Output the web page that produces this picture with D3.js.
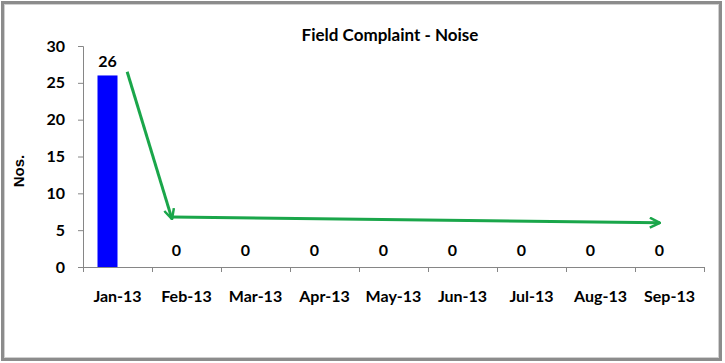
<!DOCTYPE html>
<html>
<head>
<meta charset="utf-8">
<script src="https://cdn.jsdelivr.net/npm/d3@7"></script>
<style>
  body { margin: 0; background: #fff; }
  text { font-family: Lato, "Open Sans", sans-serif; font-weight: bold; fill: #000; }
</style>
</head>
<body>
<script>
// chart data
var months = ["Jan-13", "Feb-13", "Mar-13", "Apr-13", "May-13", "Jun-13", "Jul-13", "Aug-13", "Sep-13"];
var complaints = [26, 0, 0, 0, 0, 0, 0, 0, 0];
var yTicks = [0, 5, 10, 15, 20, 25, 30];

// hand-drawn trend arrow (month, value it points at)
var trendMonths = ["Jan-13", "Feb-13", "Sep-13"];
var trendValues = [26.5, 6.5, 6.0];

var W = 725, H = 363;

var svg = d3.select('body').append('svg')
  .attr('width', W)
  .attr('height', H);

// outer frame
svg.append("rect")
  .attr("x", 2.5).attr("y", 2.5)
  .attr("width", 718).attr("height", 357)
  .attr("fill", "#fff")
  .attr("stroke", "#8c8c8c")
  .attr("stroke-width", 3);
svg.append("rect")
  .attr("x", 4.5).attr("y", 4.5)
  .attr("width", 714).attr("height", 353)
  .attr("fill", "none")
  .attr("stroke", "#d0d0d0")
  .attr("stroke-width", 1);

var x = d3.scaleBand().domain(months).range([83, 704]).padding(0);
var y = d3.scaleLinear().domain([0, 30]).range([267, 46]);
var bw = x.bandwidth();

// title
svg.append("text")
  .attr("x", 390).attr("y", 41)
  .attr("text-anchor", "middle")
  .style("font-size", "17px")
  .text("Field Complaint - Noise");

// y axis
var yAxis = svg.append("g")
  .attr("transform", "translate(83,0)")
  .call(d3.axisLeft(y).tickValues(yTicks).tickSize(5).tickPadding(13));
yAxis.selectAll("text").style("font-size", "16px");

// x axis
var xAxis = svg.append("g")
  .attr("transform", "translate(0,267)")
  .call(d3.axisBottom(x).tickSize(0).tickPadding(24));
xAxis.selectAll("text").style("font-size", "16px");
// tick marks at band edges
xAxis.selectAll(".edge")
  .data(months.concat(["end"]))
  .enter().append("line")
  .attr("x1", function(d, i) { return 83 + i * bw + 0.5; })
  .attr("x2", function(d, i) { return 83 + i * bw + 0.5; })
  .attr("y1", 0).attr("y2", 5)
  .attr("stroke", "#868686");

svg.selectAll(".domain").attr("stroke", "#868686");
yAxis.selectAll(".tick line").attr("stroke", "#868686");

// bars
var barW = 20, barOff = (bw - 2 * barW) / 2;
svg.selectAll(".bar")
  .data(complaints)
  .enter().append("rect")
  .attr("x", function(d, i) { return x(months[i]) + barOff; })
  .attr("y", function(d) { return y(d); })
  .attr("width", barW)
  .attr("height", function(d) { return y(0) - y(d); })
  .attr("fill", "#0000ff");

// value labels
svg.selectAll(".lbl")
  .data(complaints)
  .enter().append("text")
  .attr("x", function(d, i) { return x(months[i]) + barOff + barW / 2; })
  .attr("y", function(d) { return y(d) - (d > 0 ? 8 : 11); })
  .attr("text-anchor", "middle")
  .style("font-size", "16px")
  .text(function(d) { return d; });

// y axis title
svg.append("text")
  .attr("transform", "translate(24,171) rotate(-90)")
  .attr("text-anchor", "middle")
  .style("font-family", "'Liberation Sans', Arial, sans-serif")
  .style("font-size", "15px")
  .text("Nos.");

// trend arrows
svg.append("defs").append("marker")
  .attr("id", "arrow")
  .attr("viewBox", "0 0 12 12")
  .attr("refX", 11).attr("refY", 6)
  .attr("markerWidth", 12).attr("markerHeight", 12)
  .attr("markerUnits", "userSpaceOnUse")
  .attr("orient", "auto")
  .append("path")
  .attr("d", "M1,1 L11,6 L1,11")
  .attr("fill", "none")
  .attr("stroke", "#1aa64a")
  .attr("stroke-width", 2.5);

var trendOff = [0.64, 0.29, 0.36];
var pts = trendMonths.map(function(m, i) {
  return [x(m) + trendOff[i] * bw, y(trendValues[i])];
});
for (var i = 0; i < pts.length - 1; i++) {
  svg.append("line")
    .attr("x1", pts[i][0]).attr("y1", pts[i][1] + (i > 0 ? -2 : 0))
    .attr("x2", pts[i + 1][0]).attr("y2", pts[i + 1][1])
    .attr("stroke", "#1aa64a")
    .attr("stroke-width", 3)
    .attr("marker-end", "url(#arrow)");
}
</script>
</body>
</html>
